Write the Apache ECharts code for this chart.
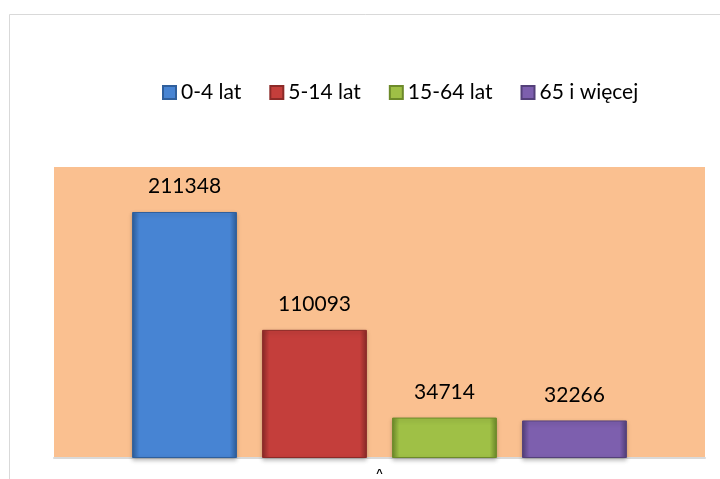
<!DOCTYPE html>
<html>
<head>
<meta charset="utf-8">
<script src="https://cdn.jsdelivr.net/npm/echarts@6/dist/echarts.min.js"></script>
<style>
  html, body { margin: 0; padding: 0; background: #fff; }
  #chart { width: 720px; height: 479px; }
</style>
</head>
<body>
<div id="chart"></div>
<script>
// dane
var categories = ['^'];
var seriesNames = ['0-4 lat', '5-14 lat', '15-64 lat', '65 i więcej'];
var seriesValues = [[211348], [110093], [34714], [32266]];
var yMax = 250000;

// kolory: [jasny, srodek, ciemny]
var palette = [
  ['#6fa8ef', '#4784d3', '#2f5f9c'],
  ['#e06a66', '#c43e3b', '#8c2a28'],
  ['#c6e070', '#9fc046', '#6d8a2a'],
  ['#a98ad2', '#7d5fae', '#54407a']
];

var chart = echarts.init(document.getElementById('chart'));

var series = seriesNames.map(function (name, i) {
  var c = palette[i];
  return {
    name: name,
    type: 'bar',
    barGap: '24%',
    barCategoryGap: '24%',
    data: seriesValues[i],
    itemStyle: {
      color: new echarts.graphic.LinearGradient(0, 0, 1, 0, [
        { offset: 0, color: c[2] },
        { offset: 0.07, color: c[1] },
        { offset: 0.93, color: c[1] },
        { offset: 1, color: c[2] }
      ]),
      borderColor: c[2],
      borderWidth: 1,
      shadowColor: 'rgba(0,0,0,0.25)',
      shadowBlur: 4,
      shadowOffsetY: 2
    },
    label: {
      show: true,
      position: 'top',
      distance: 15,
      color: '#000',
      fontFamily: 'Lato',
      fontSize: 21
    },
    emphasis: { disabled: true }
  };
});

var option = {
  backgroundColor: '#fff',
  animation: false,
  graphic: [{
    type: 'rect',
    shape: { x: 9.5, y: 14.5, width: 800, height: 600 },
    style: { fill: 'none', stroke: '#d9d9d9', lineWidth: 1 },
    silent: true
  }],
  legend: {
    top: 77,
    left: 157,
    itemWidth: 13,
    itemHeight: 13,
    itemGap: 28,
    icon: 'rect',
    textStyle: { fontFamily: 'Lato', fontSize: 21, color: '#000' },
    data: seriesNames
  },
  grid: {
    left: 54,
    right: 15,
    top: 167,
    bottom: 19,
    show: true,
    backgroundColor: '#fac090',
    borderWidth: 0
  },
  xAxis: {
    type: 'category',
    data: categories,
    axisLine: { lineStyle: { color: '#d9d9d9', width: 2 } },
    axisTick: { show: false },
    axisLabel: { fontSize: 11, fontWeight: 'bold', color: '#000', margin: 10 }
  },
  yAxis: {
    type: 'value',
    min: 0,
    max: yMax,
    show: false,
    splitLine: { show: false }
  },
  series: series
};

chart.setOption(option);
</script>
</body>
</html>
